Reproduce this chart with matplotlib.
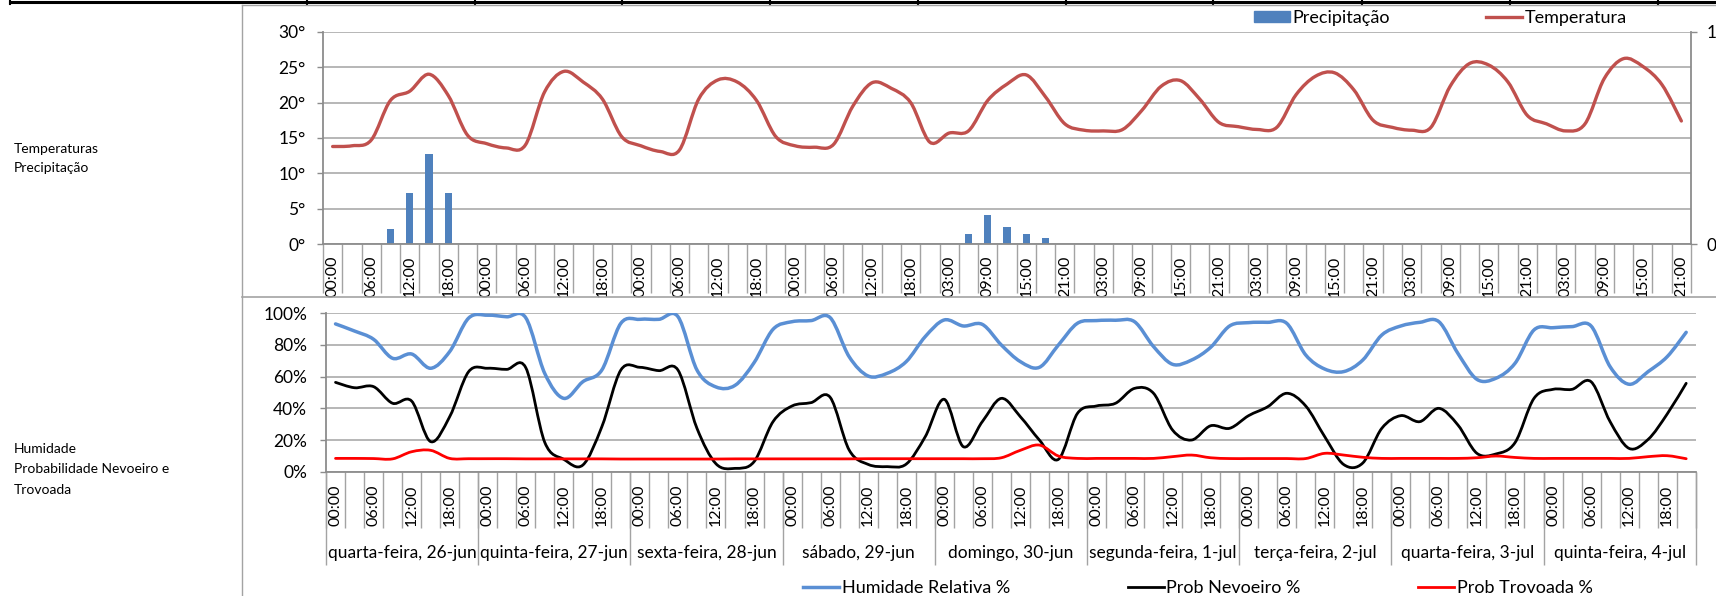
import matplotlib
matplotlib.use("Agg")
import matplotlib.pyplot as plt
import numpy as np
from matplotlib.path import Path
from matplotlib.patches import PathPatch, Patch
from matplotlib.lines import Line2D

plt.rcParams['font.family'] = ['Lato', 'DejaVu Sans']

# ---------------- dados ----------------
# grafico de cima: 71 intervalos de 3 h (falta 00:00 de domingo)
temperatura = [13.8, 13.9, 14.7, 20.3, 21.6, 24.0, 21.0, 15.4,
               14.2, 13.6, 14.0, 21.5, 24.4, 22.9, 20.5, 15.2,
               13.9, 13.1, 13.3, 20.5, 23.2, 22.9, 20.3, 15.2,
               13.9, 13.7, 14.1, 19.5, 22.8, 22.0, 20.0, 14.4,
               15.7, 16.0, 20.3, 22.6, 23.9, 20.8, 17.0,
               16.1, 16.0, 16.2, 18.9, 22.3, 23.1, 20.5, 17.2,
               16.6, 16.2, 16.5, 21.1, 23.7, 24.2, 21.8, 17.5,
               16.5, 16.1, 16.5, 22.3, 25.5, 25.3, 22.9, 18.2,
               17.0, 16.0, 17.0, 23.4, 26.2, 25.1, 22.5, 17.4]
precipitacao = [0, 0, 0, 2.1, 7.2, 12.8, 7.2, 0,
                0, 0, 0, 0, 0, 0, 0, 0,
                0, 0, 0, 0, 0, 0, 0, 0,
                0, 0, 0, 0, 0, 0, 0, 0,
                0, 1.5, 4.2, 2.4, 1.5, 0.85, 0,
                0, 0, 0, 0, 0, 0, 0, 0,
                0, 0, 0, 0, 0, 0, 0, 0,
                0, 0, 0, 0, 0, 0, 0, 0,
                0, 0, 0, 0, 0, 0, 0, 0]
horas_cima = ["00:00", "06:00", "12:00", "18:00"] * 4 + ["03:00", "09:00", "15:00", "21:00"] * 5

# grafico de baixo: 72 intervalos de 3 h
humidade = [93.3, 88.8, 83.6, 71.6, 74.3, 65.3, 75.8, 97.0,
            98.8, 97.8, 97.2, 62.0, 46.3, 56.8, 64.2, 93.7,
            96.2, 96.2, 97.9, 64.2, 53.5, 54.5, 68.8, 89.9,
            94.7, 95.4, 97.3, 72.6, 60.4, 62.1, 69.5, 85.3,
            95.8, 92.0, 93.0, 80.0, 69.5, 65.9, 80.0, 93.7,
            95.4, 95.6, 94.7, 79.0, 67.8, 70.5, 78.5, 92.0,
            94.1, 94.3, 93.7, 73.7, 64.8, 63.2, 70.5, 86.3,
            92.0, 94.3, 94.7, 74.7, 58.3, 59.0, 68.4, 89.5,
            90.9, 91.6, 92.0, 66.3, 55.2, 63.2, 72.6, 88.0]
nevoeiro = [56.4, 53.0, 53.7, 43.2, 44.6, 19.0, 34.7, 63.2,
            65.3, 64.6, 65.7, 18.5, 7.8, 4.2, 28.4, 64.2,
            65.9, 63.8, 64.2, 27.4, 5.0, 2.1, 6.3, 31.6,
            41.5, 43.6, 47.0, 13.7, 4.6, 3.2, 4.8, 22.1,
            45.7, 15.8, 31.6, 46.3, 34.7, 20.0, 7.8, 36.8,
            41.5, 43.2, 52.6, 49.5, 26.3, 20.0, 29.0, 27.4,
            35.4, 41.0, 49.5, 41.5, 22.1, 4.5, 5.5, 27.4,
            35.4, 31.6, 40.0, 29.5, 11.6, 11.2, 18.3, 46.3,
            52.0, 52.0, 56.8, 31.6, 14.7, 20.4, 36.4, 55.8]
trovoada = [8.4, 8.4, 8.3, 8.1, 12.6, 13.5, 8.4, 8.2,
            8.2, 8.2, 8.1, 8.1, 8.1, 8.1, 8.1, 8.0,
            8.0, 8.0, 8.0, 8.0, 8.0, 8.1, 8.1, 8.1,
            8.1, 8.1, 8.1, 8.1, 8.2, 8.2, 8.2, 8.2,
            8.2, 8.2, 8.2, 8.8, 13.5, 16.8, 9.9, 8.4,
            8.4, 8.4, 8.4, 8.4, 9.5, 10.5, 8.8, 8.3,
            8.3, 8.3, 8.3, 8.3, 11.6, 10.5, 9.1, 8.4,
            8.4, 8.4, 8.4, 8.4, 8.8, 9.9, 9.0, 8.4,
            8.4, 8.4, 8.4, 8.4, 8.4, 9.5, 10.1, 8.2]
horas_baixo = ["00:00", "06:00", "12:00", "18:00"] * 9
dias = ["quarta-feira, 26-jun", "quinta-feira, 27-jun", "sexta-feira, 28-jun",
        "sábado, 29-jun", "domingo, 30-jun", "segunda-feira, 1-jul",
        "terça-feira, 2-jul", "quarta-feira, 3-jul", "quinta-feira, 4-jul"]

# ---------------- estilo ----------------
W, H = 1716, 596
cinza = '#A3A3A3'
eixo = '#8C8C8C'
cor_temp = '#C0504D'
cor_prec = '#4F81BD'
cor_hum = '#5A8FD4'
cor_nev = 'black'
cor_trov = '#FF0000'


def linha_suave(ax, y, cor, lw):
    # curva suavizada tipo Excel (Catmull-Rom em Bezier)
    p = np.column_stack([np.arange(len(y)), np.asarray(y, float)])
    verts = [p[0]]
    codes = [Path.MOVETO]
    for k in range(len(p) - 1):
        p0 = p[k - 1] if k > 0 else p[k]
        p1, p2 = p[k], p[k + 1]
        p3 = p[k + 2] if k + 2 < len(p) else p[k + 1]
        verts += [p1 + (p2 - p0) / 6, p2 - (p3 - p1) / 6, p2]
        codes += [Path.CURVE4] * 3
    ax.add_patch(PathPatch(Path(verts, codes), fill=False, edgecolor=cor, lw=lw,
                           capstyle='round', joinstyle='round', zorder=3))


fig = plt.figure(figsize=(W / 100, H / 100), dpi=100)

# molduras e linha da tabela
fig.add_artist(Line2D([10 / W, 1], [1 - 2 / H] * 2, color='black', lw=2.2))
for xd in [10, 307, 475, 622, 770, 918, 1066, 1213, 1362, 1510, 1658]:
    fig.add_artist(Line2D([xd / W] * 2, [1, 1 - 4 / H], color='black', lw=1.5))
fig.add_artist(Line2D([242 / W] * 2, [1 - 5 / H, 0], color=cinza, lw=1))
fig.add_artist(Line2D([242 / W, 1], [1 - 5 / H] * 2, color=cinza, lw=1))
fig.add_artist(Line2D([242 / W, 1], [1 - 297 / H] * 2, color=cinza, lw=1.2))

fig.text(14 / W, 1 - 149 / H, "Temperaturas", fontsize=10, va='center')
fig.text(14 / W, 1 - 168 / H, "Precipitação", fontsize=10, va='center')
fig.text(14 / W, 1 - 449 / H, "Humidade", fontsize=10, va='center')
fig.text(14 / W, 1 - 469 / H, "Probabilidade Nevoeiro e", fontsize=10, va='center')
fig.text(14 / W, 1 - 490 / H, "Trovoada", fontsize=10, va='center')

# ---------------- grafico de cima ----------------
ax1 = fig.add_axes([323 / W, 1 - 244.3 / H, 1368 / W, 212.6 / H])
n1 = len(temperatura)
ax1.bar(np.arange(n1), precipitacao, width=0.38, color=cor_prec, zorder=2)
linha_suave(ax1, temperatura, cor_temp, 2.4)
ax1.set_xlim(-0.5, n1 - 0.5)
ax1.set_ylim(0, 30)
ax1.set_yticks(np.arange(0, 31, 5))
ax1.set_yticklabels([f"{v}°" for v in range(0, 31, 5)])
ax1.grid(axis='y', color=cinza, lw=1.1, zorder=0)
ax1.set_axisbelow(True)
ax1.set_xticks(np.arange(0, n1, 2))
ax1.set_xticklabels(horas_cima, rotation=90)
ax1.set_xticks(np.arange(-0.5, n1, 1), minor=True)
ax1.tick_params(axis='x', which='major', length=0, pad=8, labelsize=11.5)
ax1.tick_params(axis='x', which='minor', length=35, color=cinza, width=1)
ax1.tick_params(axis='y', length=4.5, color=eixo, width=1, pad=8, labelsize=12.5)
for s in ['top', 'right']:
    ax1.spines[s].set_visible(False)
for s in ['left', 'bottom']:
    ax1.spines[s].set_color(eixo)
    ax1.spines[s].set_linewidth(1.3)

ax1r = ax1.twinx()
ax1r.set_ylim(0, 1)
ax1r.set_yticks([0, 1])
ax1r.set_yticklabels(["0", "1"])
ax1r.tick_params(axis='y', length=4.5, color=eixo, width=1, pad=7, labelsize=12.5)
for s in ['top', 'left', 'bottom']:
    ax1r.spines[s].set_visible(False)
ax1r.spines['right'].set_color(eixo)
ax1r.spines['right'].set_linewidth(1.3)

leg1 = [Patch(color=cor_prec), Line2D([], [], color=cor_temp, lw=2.4)]
fig.legend(leg1, ["Precipitação", "Temperatura"], ncol=2, loc='center',
           bbox_to_anchor=(1440 / W, 1 - 18 / H), frameon=False, fontsize=13,
           handlelength=2.0, handleheight=0.5, handletextpad=0.15, columnspacing=5.3,
           borderpad=0, borderaxespad=0)

# ---------------- grafico de baixo ----------------
ax2 = fig.add_axes([326 / W, 1 - 471.7 / H, 1369.7 / W, 158.4 / H])
n2 = len(humidade)
linha_suave(ax2, humidade, cor_hum, 2.5)
linha_suave(ax2, nevoeiro, cor_nev, 2.0)
linha_suave(ax2, trovoada, cor_trov, 2.0)
ax2.set_xlim(-0.5, n2 - 0.5)
ax2.set_ylim(0, 100)
ax2.set_yticks(np.arange(0, 101, 20))
ax2.set_yticklabels([f"{v}%" for v in range(0, 101, 20)])
ax2.grid(axis='y', color=cinza, lw=1.1, zorder=0)
ax2.set_axisbelow(True)
ax2.set_xticks(np.arange(0, n2, 2))
ax2.set_xticklabels(horas_baixo, rotation=90)
ax2.set_xticks(np.arange(-0.5, n2, 1), minor=True)
ax2.tick_params(axis='x', which='major', length=0, pad=9.5, labelsize=11.5)
ax2.tick_params(axis='x', which='minor', length=40, color=cinza, width=1)
ax2.tick_params(axis='y', length=4.5, color=eixo, width=1, pad=9, labelsize=12.5)
for s in ['top', 'right']:
    ax2.spines[s].set_visible(False)
for s in ['left', 'bottom']:
    ax2.spines[s].set_color(eixo)
    ax2.spines[s].set_linewidth(1.3)

# separadores e nomes dos dias
ax2.vlines(np.arange(-0.5, n2, 8), -0.587, 0, transform=ax2.get_xaxis_transform(),
           color=cinza, lw=1, clip_on=False)
for d, nome in enumerate(dias):
    ax2.text(d * 8 + 3.5, -0.513, nome, transform=ax2.get_xaxis_transform(),
             ha='center', va='center', fontsize=12.5)

leg2 = [Line2D([], [], color=cor_hum, lw=2.5), Line2D([], [], color=cor_nev, lw=2.0),
        Line2D([], [], color=cor_trov, lw=2.0)]
fig.legend(leg2, ["Humidade Relativa %", "Prob Nevoeiro %", "Prob Trovoada %"], ncol=3,
           loc='center', bbox_to_anchor=(1198 / W, 1 - 588 / H), frameon=False, fontsize=13,
           handlelength=2.0, handletextpad=0.15, columnspacing=6.5,
           borderpad=0, borderaxespad=0)

fig.savefig("out.png", dpi=100)
